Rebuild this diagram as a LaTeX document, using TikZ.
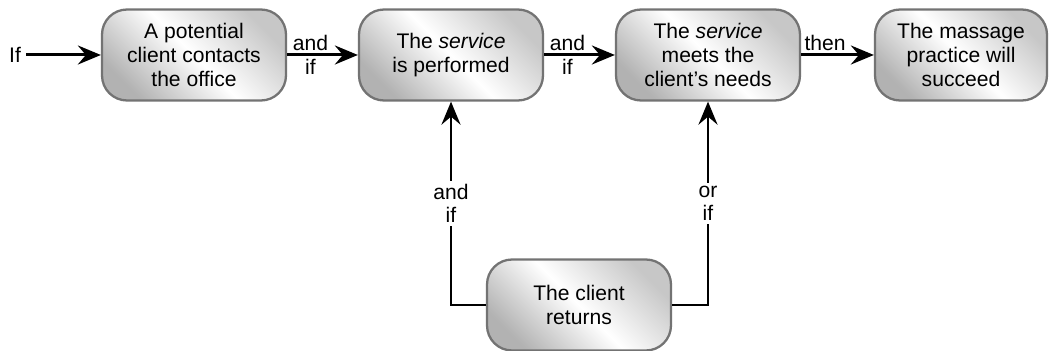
\documentclass[tikz,border=0pt]{standalone}
\usepackage{fontspec}
\setmainfont{Liberation Sans}
\usetikzlibrary{positioning,arrows.meta}

\begin{document}
\begin{tikzpicture}[x=0.02cm,y=0.02cm,
  font=\fontsize{12}{13.6}\selectfont,
  stepbox/.style={draw=black!55,line width=1.3pt,rounded corners=0.5cm,
    left color=black!30,right color=black!22,middle color=white,shading angle=135,
    align=center,minimum width=3.68cm,minimum height=1.82cm,inner sep=0pt},
  lab/.style={inner sep=1.5pt,align=center},
  arr/.style={line width=1.7pt,-{Stealth[length=4.6mm,width=3.8mm,inset=1.6mm]}}]
\useasboundingbox (0,0) rectangle (1049,351);
% the chain of conditions
\node[stepbox] (contact) at (194,296) {A potential\\client contacts\\the office};
\node[stepbox] (perform) at (451,296) {The \textit{service}\\is performed};
\node[stepbox] (needs) at (708,296) {The \textit{service}\\meets the\\client's needs};
\node[stepbox,minimum width=3.44cm] (succeed) at (961,296) {The massage\\practice will\\succeed};
\node[stepbox] (returns) at (579,46) {The client\\returns};
\node[lab,inner sep=3pt] (start) at (15,296) {If};
% connectors
\draw[arr] (start) -- (contact);
\draw[arr] (contact) -- node[lab,above,pos=0.33] {and} node[lab,below,pos=0.33] {if} (perform);
\draw[arr] (perform) -- node[lab,above,pos=0.33] {and} node[lab,below,pos=0.33] {if} (needs);
\draw[arr] (needs) -- node[lab,above,pos=0.33] {then} (succeed);
\draw[arr] (returns.west) -| node[lab,fill=white,pos=0.75] {and\\if} (perform.south);
\draw[arr] (returns.east) -| node[lab,fill=white,pos=0.75] {or\\if} (needs.south);
\end{tikzpicture}
\end{document}
